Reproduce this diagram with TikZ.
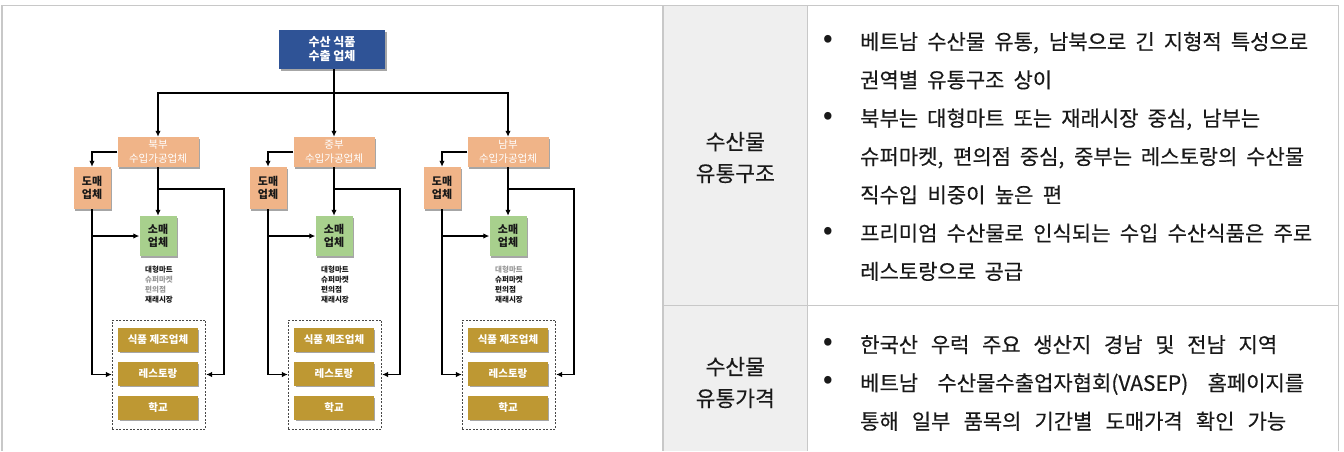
\documentclass[tikz,border=0pt]{standalone}
\usepackage{fontspec}
\setmainfont{Noto Sans CJK KR}
\newfontfamily\tbl{Noto Sans CJK KR}[FakeBold=0.35]
\usetikzlibrary{arrows.meta,shadows}
\definecolor{topblue}{RGB}{47,83,150}
\definecolor{salmon}{RGB}{240,180,136}
\definecolor{leaf}{RGB}{168,208,141}
\definecolor{gold}{RGB}{190,152,51}
\definecolor{ink}{RGB}{25,25,25}
\definecolor{softgray}{RGB}{150,150,150}
\definecolor{cellgray}{RGB}{239,239,239}
\definecolor{gridgray}{RGB}{200,200,200}
\begin{document}
\begin{tikzpicture}[x=1pt,y=-1pt,
  shad/.style={drop shadow={shadow xshift=1.6pt,shadow yshift=-1.6pt,opacity=0.35,fill=black}},
  box/.style={shad,inner sep=0pt,align=center},
  topbox/.style={box,fill=topblue,text=white,minimum width=106pt,minimum height=39pt,font=\fontsize{12}{14}\selectfont\bfseries},
  regbox/.style={box,fill=salmon,text=white,minimum width=81pt,minimum height=30pt,font=\fontsize{10.5}{14}\selectfont},
  dombox/.style={box,fill=salmon,text=ink,minimum width=37pt,minimum height=42pt,font=\fontsize{11}{13.5}\selectfont\bfseries},
  sombox/.style={box,fill=leaf,text=ink,minimum width=37pt,minimum height=40pt,font=\fontsize{11}{12.5}\selectfont\bfseries},
  goldbox/.style={box,fill=gold,text=white,minimum width=79.4pt,minimum height=23.5pt,font=\fontsize{10.5}{12}\selectfont\bfseries},
  dashbox/.style={draw=ink!80,dashed,dash pattern=on 2pt off 1.5pt,line width=0.8pt,inner sep=0pt,minimum width=93.4pt,minimum height=109pt},
  listtx/.style={anchor=west,inner sep=0pt,align=left,text=ink,font=\fontsize{7.5}{10}\selectfont\bfseries},
  ln/.style={draw=black,line width=1.6pt},
  arr/.style={ln,-{Latex[length=6pt,width=5.5pt]}},
  grid/.style={draw=gridgray,line width=1.5pt},
  tx/.style={anchor=west,inner sep=0pt,text=ink,text height=18pt,text depth=3pt,font=\tbl\fontsize{21}{25}\selectfont},
  bul/.style={inner sep=0pt,text=ink,font=\fontsize{24}{26}\selectfont\bfseries},
  lab/.style={inner sep=0pt,align=center,text=ink,font=\tbl\fontsize{21.5}{31.7}\selectfont}
]
\useasboundingbox (0,0) rectangle (1344,451);
% table frame
\fill[cellgray] (663,5.5) rectangle (807.7,451);
\draw[grid] (2,451) -- (2,5.5) -- (1338.7,5.5) -- (1338.7,451);
\draw[grid] (663,5.5) -- (663,451);
\draw[grid] (807.7,5.5) -- (807.7,451);
\draw[grid] (663,305.3) -- (1338.7,305.3);

% diagram
\node[topbox] (top) at (332,49.5) {수산 식품\\수출 업체};
\foreach \i/\cx/\nm in {1/158/북부,2/334/중부,3/508/남부}{
  \node[regbox] (reg\i) at (\cx,152) {\nm\\수입가공업체};
  \node[dombox] (dom\i) at (\cx-66,188) {도매\\업체};
  \node[sombox] (som\i) at (\cx,236) {소매\\업체};
  \node[dashbox] (dash\i) at (\cx+1,374.5) {};
  \node[goldbox] (food\i) at (\cx,340) {식품 제조업체};
  \node[goldbox] (rest\i) at (\cx,374) {레스토랑};
  \node[goldbox] (sch\i) at (\cx,408) {학교};
  \coordinate (br\i) at (\cx,189);
  \coordinate (rt\i) at (\cx+66,189);
  \draw[arr] (reg\i.west) -| (dom\i.north);
  \draw[arr] (reg\i.south) -- (som\i.north);
  \draw[arr] (br\i) -- (rt\i) |- (dash\i.east);
  \draw[arr] (dom\i.south) |- (dash\i.west);
  \draw[arr] (dom\i.south |- som\i.west) -- (som\i.west);
}
\node[listtx] (list1) at (145,285) {대형마트\\{\color{softgray}슈퍼마켓}\\{\color{softgray}편의점}\\재래시장};
\node[listtx] (list2) at (321,285) {대형마트\\슈퍼마켓\\편의점\\재래시장};
\node[listtx] (list3) at (495,285) {{\color{softgray}대형마트}\\슈퍼마켓\\편의점\\재래시장};

\coordinate (jt) at (334,93);
\draw[ln] (reg2.north |- top.south) -- (jt);
\draw[arr] (jt) -- (reg2.north);
\draw[arr] (jt) -| (reg1.north);
\draw[arr] (jt) -| (reg3.north);

% table text
\node[lab] (lab1) at (735.3,157.5) {수산물\\유통구조};
\node[lab] (lab2) at (735.3,382.5) {수산물\\유통가격};

\node[bul] (b1) at (828,41) {•};
\node[bul] (b2) at (828,117.6) {•};
\node[bul] (b3) at (828,232.5) {•};
\node[bul] (b4) at (828,344) {•};
\node[bul] (b5) at (828,382.3) {•};

\node[tx] (t1) at (860,42) {\makebox[448pt][s]{베트남 수산물 유통, 남북으로 긴 지형적 특성으로}};
\node[tx] (t2) at (860,80.3) {\makebox[192pt][s]{권역별 유통구조 상이}};
\node[tx] (t3) at (860,118.6) {\makebox[400pt][s]{북부는 대형마트 또는 재래시장 중심, 남부는}};
\node[tx] (t4) at (860,156.9) {\makebox[444pt][s]{슈퍼마켓, 편의점 중심, 중부는 레스토랑의 수산물}};
\node[tx] (t5) at (860,195.2) {\makebox[202pt][s]{직수입 비중이 높은 편}};
\node[tx] (t6) at (860,233.5) {\makebox[452pt][s]{프리미엄 수산물로 인식되는 수입 수산식품은 주로}};
\node[tx] (t7) at (860,271.8) {\makebox[163pt][s]{레스토랑으로 공급}};
\node[tx] (t8) at (860,345) {\makebox[417pt][s]{한국산 우럭 주요 생산지 경남 및 전남 지역}};
\node[tx] (t9) at (860,383.3) {\makebox[444pt][s]{베트남 수산물수출업자협회(VASEP) 홈페이지를}};
\node[tx] (t10) at (860,421.6) {\makebox[426pt][s]{통해 일부 품목의 기간별 도매가격 확인 가능}};
\end{tikzpicture}
\end{document}
